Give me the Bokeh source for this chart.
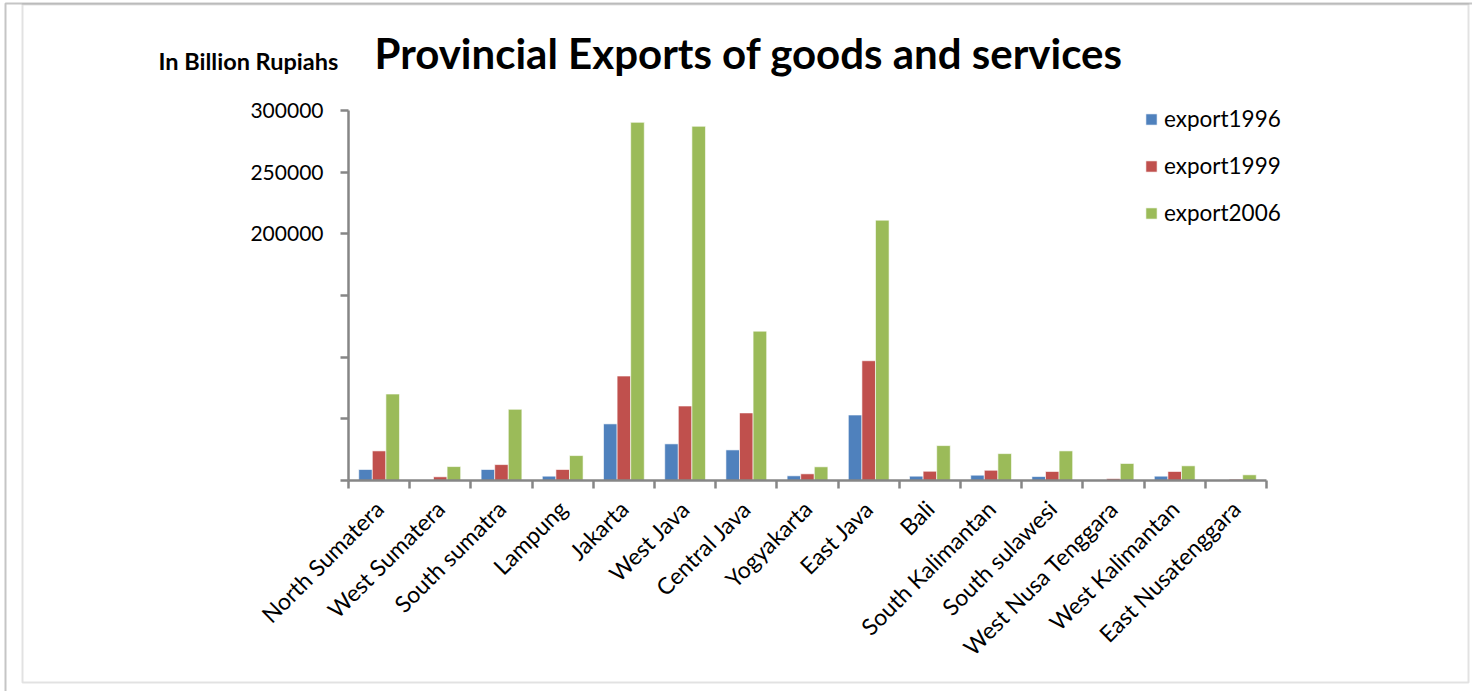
import math
from bokeh.plotting import figure
from bokeh.models import (Range1d, FixedTicker, Label, BoxAnnotation, Legend,
                          LegendItem, LinearAxis, ColumnDataSource)
from bokeh.embed import file_html
from bokeh.resources import INLINE

# ---------------- data ----------------
categories = ["North Sumatera", "West Sumatera", "South sumatra", "Lampung", "Jakarta",
              "West Java", "Central Java", "Yogyakarta", "East Java", "Bali",
              "South Kalimantan", "South sulawesi", "West Nusa Tenggara",
              "West Kalimantan", "East Nusatenggara"]
export1996 = [8900, 0, 8900, 3500, 45900, 29700, 24800, 3800, 53100, 3500, 4300, 3200, 300, 3500, 300]
export1999 = [24000, 3000, 12900, 8900, 84700, 60400, 54800, 5400, 97100, 7500, 8300, 7300, 1500, 7300, 1000]
export2006 = [70100, 11300, 57700, 20200, 290400, 287200, 121100, 11100, 211100, 28300, 21800, 24000, 13800, 11900, 4600]
series_names = ["export1996", "export1999", "export2006"]
series_values = [export1996, export1999, export2006]
y_ticks = [0, 50000, 100000, 150000, 200000, 250000, 300000]
y_shown_labels = [200000, 250000, 300000]
y_max = 300000
title_text = "Provincial Exports of goods and services"
unit_text = "In Billion Rupiahs"

# ---------------- layout / styles ----------------
colors = ["#4F81BD", "#C0504D", "#9BBB59"]
W, H = 1472, 691
PL, PR, PT, PB = 348, 1266, 110, 480   # plot-area pixel edges inside the canvas
AX = "#868686"
FONT = "Lato"
n = len(categories)

ux = (PR - PL) / n            # px per category
uy = (PB - PT) / y_max        # px per value unit
x_range = Range1d(-PL / ux, (W - PL) / ux)
y_range = Range1d(-(H - PB) / uy, y_max + PT / uy)

p = figure(width=W, height=H, output_backend="svg", toolbar_location=None,
           x_range=x_range, y_range=y_range,
           min_border_left=0, min_border_right=0, min_border_top=0, min_border_bottom=0,
           x_axis_type=None, y_axis_type=None)
p.outline_line_color = None
p.background_fill_color = "white"
p.border_fill_color = "white"

# bars
bw = 0.222
offsets = [-bw, 0.0, bw]
renderers = []
for name, vals, col, off in zip(series_names, series_values, colors, offsets):
    src = ColumnDataSource(dict(x=[i + 0.5 + off for i in range(n)], top=vals))
    r = p.vbar(x="x", top="top", width=bw, bottom=0, source=src,
               fill_color=col, line_color="white", line_alpha=0.6, line_width=1)
    renderers.append(r)

# y axis
yaxis = LinearAxis(ticker=FixedTicker(ticks=y_ticks, minor_ticks=[]),
                   fixed_location=0, bounds=(0, y_max))
yaxis.major_label_overrides = {t: (str(t) if t in y_shown_labels else "") for t in y_ticks}
yaxis.axis_line_color = AX
yaxis.axis_line_width = 2.5
yaxis.major_tick_line_color = AX
yaxis.major_tick_line_width = 2.5
yaxis.major_tick_out = 8
yaxis.major_tick_in = 0
yaxis.minor_tick_line_color = None
yaxis.major_label_standoff = 17
yaxis.major_label_text_font = FONT
yaxis.major_label_text_font_size = "21px"
yaxis.major_label_text_color = "#000000"
p.add_layout(yaxis, "left")

# x axis: labels at category centres, ticks at category boundaries
xaxis = LinearAxis(ticker=FixedTicker(ticks=[i + 0.5 for i in range(n)],
                                      minor_ticks=list(range(n + 1))),
                   fixed_location=0, bounds=(0, n))
xaxis.major_label_overrides = {i + 0.5: c for i, c in enumerate(categories)}
xaxis.axis_line_color = AX
xaxis.axis_line_width = 2.5
xaxis.major_tick_line_color = None
xaxis.major_tick_out = 0
xaxis.major_tick_in = 0
xaxis.minor_tick_line_color = AX
xaxis.minor_tick_line_width = 2.5
xaxis.minor_tick_out = 8
xaxis.minor_tick_in = 0
xaxis.major_label_orientation = math.pi / 4
xaxis.major_label_standoff = 16
xaxis.major_label_text_font = FONT
xaxis.major_label_text_font_size = "23px"
xaxis.major_label_text_color = "#000000"
p.add_layout(xaxis, "below")

# legend
legend = Legend(items=[LegendItem(label=s, renderers=[r]) for s, r in zip(series_names, renderers)],
                location=(1144, H - 226), orientation="vertical",
                glyph_width=14, glyph_height=14, label_standoff=6,
                label_height=25, spacing=20, padding=0, margin=0,
                border_line_color=None, background_fill_alpha=0,
                label_text_font=FONT, label_text_font_size="22.5px", label_text_color="#000000")
p.add_layout(legend)

# texts
p.add_layout(Label(x=374, y=H - 52, x_units="screen", y_units="screen",
                   text=title_text, text_font=FONT, text_font_style="bold",
                   text_font_size="42px", text_baseline="alphabetic", text_align="left",
                   text_color="#000000"))
p.add_layout(Label(x=158, y=H - 60, x_units="screen", y_units="screen",
                   text=unit_text, text_font=FONT, text_font_style="bold",
                   text_font_size="23.5px", text_baseline="alphabetic", text_align="left",
                   text_color="#000000"))

# chart frame borders
p.add_layout(BoxAnnotation(left=22, right=1468, top=H - 4, bottom=H - 682,
                           left_units="screen", right_units="screen",
                           top_units="screen", bottom_units="screen",
                           fill_color=None, fill_alpha=0, line_color="#A0A0A0", line_width=2))
p.add_layout(BoxAnnotation(left=5, right=1490, top=H - 3, bottom=-20,
                           left_units="screen", right_units="screen",
                           top_units="screen", bottom_units="screen",
                           fill_color=None, fill_alpha=0, line_color="#404040", line_width=2))

open("out.html", "w").write(file_html(p, INLINE))
